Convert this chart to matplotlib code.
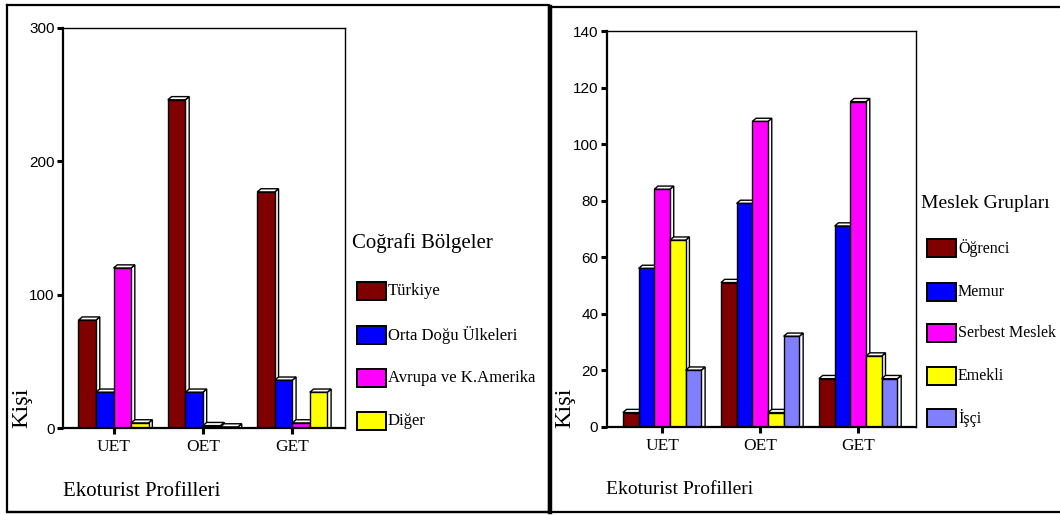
import matplotlib
matplotlib.use("Agg")
import matplotlib.pyplot as plt
from matplotlib.patches import Rectangle, Polygon
from matplotlib.lines import Line2D

# ---- data ----
profiles = ["UET", "OET", "GET"]

regions = ["Türkiye", "Orta Doğu Ülkeleri", "Avrupa ve K.Amerika", "Diğer"]
turkiye = [81, 246, 177]
orta_dogu = [27, 27, 36]
avrupa_amerika = [120, 2, 4]
diger = [4, 1, 27]

jobs = ["Öğrenci", "Memur", "Serbest Meslek", "Emekli", "İşçi"]
ogrenci = [5, 51, 17]
memur = [56, 79, 71]
serbest = [84, 108, 115]
emekli = [66, 5, 25]
isci = [20, 32, 17]

region_colors = ["#800000", "#0000ff", "#ff00ff", "#ffff00"]
job_colors = ["#800000", "#0000ff", "#ff00ff", "#ffff00", "#8080ff"]

SERIF = "Liberation Serif"
SANS = "Liberation Sans"

W, H = 1060, 515
fig = plt.figure(figsize=(W / 100, H / 100), dpi=100)
fig.patch.set_facecolor("white")


def fx(px):
    return px / W


def fy(py):
    return 1 - py / H


def make_axes(left, top, right, bottom):
    return fig.add_axes([fx(left), fy(bottom), fx(right) - fx(left), fy(top) - fy(bottom)])


def draw_bar3d(ax, x, h, w, color, dx, dy):
    ec = "black"
    lw = 1.0
    side = Polygon([(x + w / 2, 0), (x + w / 2 + dx, 0), (x + w / 2 + dx, h + dy), (x + w / 2, h)],
                   closed=True, facecolor="white", edgecolor=ec, linewidth=lw, zorder=2)
    top = Polygon([(x - w / 2, h), (x - w / 2 + dx, h + dy), (x + w / 2 + dx, h + dy), (x + w / 2, h)],
                  closed=True, facecolor="white", edgecolor=ec, linewidth=lw, zorder=2)
    front = Rectangle((x - w / 2, 0), w, h, facecolor=color, edgecolor=ec, linewidth=lw, zorder=2)
    ax.add_patch(side)
    ax.add_patch(top)
    ax.add_patch(front)


def grouped_3d(ax, series, colors, width, ylim, yticks, depth_px=(3.8, 3.2)):
    xlim = (-0.565, 2.59)
    ax.set_xlim(*xlim)
    ax.set_ylim(*ylim)
    bb = ax.get_position()
    px_x = bb.width * W / (xlim[1] - xlim[0])
    px_y = bb.height * H / (ylim[1] - ylim[0])
    dx = depth_px[0] / px_x
    dy = depth_px[1] / px_y
    n = len(series)
    for gi in range(len(profiles)):
        for si, vals in enumerate(series):
            x = gi + (si - (n - 1) / 2) * width
            draw_bar3d(ax, x, vals[gi], width, colors[si], dx, dy)
    ax.set_xticks(range(len(profiles)))
    ax.set_xticklabels(profiles, fontfamily=SERIF, fontsize=12.5)
    ax.set_yticks(yticks)
    ax.set_yticklabels([str(t) for t in yticks], fontfamily=SANS, fontsize=11)
    ax.tick_params(axis="both", direction="out", length=4, width=2.2, color="black")
    ax.tick_params(axis="y", pad=2)
    ax.tick_params(axis="x", pad=4)
    for side in ["left", "bottom"]:
        ax.spines[side].set_linewidth(1.6)
    for side in ["top", "right"]:
        ax.spines[side].set_linewidth(1.0)


def legend_block(title, labels, colors, title_xy, patch_x, rows_y, title_size, label_size):
    fig.text(fx(title_xy[0]), fy(title_xy[1]), title, fontfamily=SERIF, fontsize=title_size,
             ha="left", va="center")
    for lab, col, yy in zip(labels, colors, rows_y):
        fig.patches.append(Rectangle((fx(patch_x), fy(yy + 9)), fx(29), 18 / H,
                                     transform=fig.transFigure, facecolor=col,
                                     edgecolor="black", linewidth=1.4))
        fig.text(fx(patch_x + 31), fy(yy), lab, fontfamily=SERIF, fontsize=label_size,
                 ha="left", va="center")


# ---- left panel: geographic regions ----
ax1 = make_axes(63, 27.7, 345, 428.3)
grouped_3d(ax1, [turkiye, orta_dogu, avrupa_amerika, diger], region_colors, 0.196,
           (0, 300), [0, 100, 200, 300])
fig.text(fx(22), fy(408), "Kişi", fontfamily=SERIF, fontsize=17.5, rotation=90,
         ha="center", va="center")
fig.text(fx(63), fy(492), "Ekoturist Profilleri", fontfamily=SERIF, fontsize=15,
         ha="left", va="center")
legend_block("Coğrafi Bölgeler", regions, region_colors, (352, 243), 357,
             [291, 335, 378, 421], 15, 12)

# ---- right panel: occupational groups ----
ax2 = make_axes(606.7, 31, 916, 426.7)
grouped_3d(ax2, [ogrenci, memur, serbest, emekli, isci], job_colors, 0.16,
           (0, 140), [0, 20, 40, 60, 80, 100, 120, 140])
fig.text(fx(565), fy(408), "Kişi", fontfamily=SERIF, fontsize=17.5, rotation=90,
         ha="center", va="center")
fig.text(fx(606), fy(490), "Ekoturist Profilleri", fontfamily=SERIF, fontsize=14,
         ha="left", va="center")
legend_block("Meslek Grupları", jobs, job_colors, (921, 203), 927,
             [248, 292, 333, 376, 418], 14, 11.5)

# ---- panel frames ----
def fline(xs, ys, lw):
    fig.lines.append(Line2D([fx(v) for v in xs], [fy(v) for v in ys], transform=fig.transFigure,
                            color="black", linewidth=lw, solid_capstyle="projecting"))


fline([6.7, 549, 549, 6.7, 6.7], [4.5, 4.5, 511.5, 511.5, 4.5], 1.6)
fline([550, 1060], [6.7, 6.7], 1.6)
fline([550, 550], [6.7, 511.5], 3.2)
fline([6.7, 1060], [511.5, 511.5], 1.6)

fig.savefig("out.png", dpi=100, facecolor="white")
